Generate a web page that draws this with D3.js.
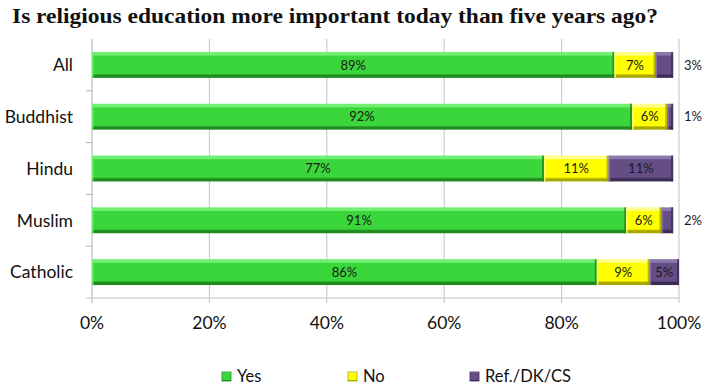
<!DOCTYPE html>
<html>
<head>
<meta charset="utf-8">
<script src="https://cdn.jsdelivr.net/npm/d3@7"></script>
<style>
  html, body { margin: 0; padding: 0; background: #fff; }
  svg { display: block; }
</style>
</head>
<body>
<svg id="chart" width="702" height="387"></svg>
<script>
// Survey responses by religious group (percent)
const categories = ["All", "Buddhist", "Hindu", "Muslim", "Catholic"];
const yesValues = [89, 92, 77, 91, 86];
const noValues = [7, 6, 11, 6, 9];
const refValues = [3, 1, 11, 2, 5];
const seriesNames = ["Yes", "No", "Ref./DK/CS"];
const tickValues = [0, 20, 40, 60, 80, 100];

const palette = {
  "Yes": { base: "#3bd63b", light: "#72ee72", dark: "#1f8a1f" },
  "No": { base: "#ffff00", light: "#ffff8c", dark: "#a8a800" },
  "Ref./DK/CS": { base: "#654e86", light: "#8d78ab", dark: "#3b2b55" }
};

const rows = categories.map((c, i) => ({
  category: c,
  "Yes": yesValues[i],
  "No": noValues[i],
  "Ref./DK/CS": refValues[i]
}));

const svg = d3.select("#chart");
const uiFont = "Lato, 'Open Sans', sans-serif";

const plotLeft = 92, plotRight = 679, plotTop = 39, plotBottom = 298;

const x = d3.scaleLinear().domain([0, 100]).range([plotLeft, plotRight]);
const y = d3.scaleBand().domain(categories).range([plotTop, plotBottom])
  .paddingInner(0.5).paddingOuter(0.25);

// Bevel gradients for each series
const defs = svg.append("defs");
seriesNames.forEach((name, i) => {
  const c = palette[name];
  const g = defs.append("linearGradient").attr("id", "grad" + i)
    .attr("x1", 0).attr("y1", 0).attr("x2", 0).attr("y2", 1);
  g.append("stop").attr("offset", "0%").attr("stop-color", c.light);
  g.append("stop").attr("offset", "12%").attr("stop-color", c.light);
  g.append("stop").attr("offset", "16%").attr("stop-color", c.base);
  g.append("stop").attr("offset", "84%").attr("stop-color", c.base);
  g.append("stop").attr("offset", "90%").attr("stop-color", c.dark);
  g.append("stop").attr("offset", "100%").attr("stop-color", c.dark);
});

// Title
svg.append("text")
  .attr("x", 12).attr("y", 23)
  .attr("font-family", "'Liberation Serif', 'Times New Roman', serif")
  .attr("font-weight", "bold")
  .attr("font-size", 22)
  .attr("textLength", 646)
  .attr("lengthAdjust", "spacingAndGlyphs")
  .attr("fill", "#111")
  .text("Is religious education more important today than five years ago?");

// Vertical gridlines with small ticks below the axis
svg.append("g").selectAll("line")
  .data(tickValues.slice(1))
  .join("line")
  .attr("x1", d => x(d)).attr("x2", d => x(d))
  .attr("y1", plotTop).attr("y2", plotBottom + 5)
  .attr("stroke", "#c4c4c4").attr("stroke-width", 1);

// Category axis line and band-boundary ticks
svg.append("line")
  .attr("x1", plotLeft).attr("x2", plotLeft)
  .attr("y1", plotTop).attr("y2", plotBottom + 5)
  .attr("stroke", "#b0b0b0");
svg.append("line")
  .attr("x1", plotLeft - 6).attr("x2", plotRight)
  .attr("y1", plotBottom).attr("y2", plotBottom)
  .attr("stroke", "#c4c4c4");
const step = y.step();
svg.append("g").selectAll("line")
  .data(d3.range(1, categories.length))
  .join("line")
  .attr("x1", plotLeft - 6).attr("x2", plotLeft)
  .attr("y1", k => plotTop + k * step).attr("y2", k => plotTop + k * step)
  .attr("stroke", "#b0b0b0");

// Category labels
svg.append("g").selectAll("text")
  .data(categories)
  .join("text")
  .attr("x", 73)
  .attr("y", d => y(d) + y.bandwidth() / 2)
  .attr("dy", "0.36em")
  .attr("text-anchor", "end")
  .attr("font-family", uiFont)
  .attr("font-size", 17.5)
  .attr("fill", "#111")
  .text(d => d);

// Percent axis labels
svg.append("g").selectAll("text")
  .data(tickValues)
  .join("text")
  .attr("x", d => x(d))
  .attr("y", 329)
  .attr("text-anchor", "middle")
  .attr("font-family", uiFont)
  .attr("font-size", 17.5)
  .attr("fill", "#111")
  .text(d => d + "%");

// Stacked bars
const stack = d3.stack().keys(seriesNames);
const layers = stack(rows);

const layerG = svg.append("g").selectAll("g")
  .data(layers)
  .join("g");

layerG.each(function(layer, li) {
  const c = palette[layer.key];
  const g = d3.select(this);
  g.selectAll("rect.seg")
    .data(layer)
    .join("rect")
    .attr("class", "seg")
    .attr("x", d => x(d[0]))
    .attr("y", d => y(d.data.category))
    .attr("width", d => x(d[1]) - x(d[0]))
    .attr("height", y.bandwidth())
    .attr("fill", "url(#grad" + li + ")");
  // darker right edge for the bevel
  g.selectAll("rect.edge")
    .data(layer)
    .join("rect")
    .attr("class", "edge")
    .attr("x", d => x(d[1]) - 2)
    .attr("y", d => y(d.data.category))
    .attr("width", 2)
    .attr("height", y.bandwidth())
    .attr("fill", c.dark)
    .attr("opacity", 0.8);
  g.selectAll("rect.ledge")
    .data(layer)
    .join("rect")
    .attr("class", "ledge")
    .attr("x", d => x(d[0]))
    .attr("y", d => y(d.data.category))
    .attr("width", 1.5)
    .attr("height", y.bandwidth())
    .attr("fill", c.light)
    .attr("opacity", 0.8);
});

// Value labels: inside wide segments, to the right of narrow end segments
layerG.each(function(layer) {
  d3.select(this).selectAll("text")
    .data(layer)
    .join("text")
    .attr("x", d => (d[1] - d[0]) < 4 ? x(100) + 14 : (x(d[0]) + x(d[1])) / 2)
    .attr("y", d => y(d.data.category) + y.bandwidth() / 2)
    .attr("dy", "0.36em")
    .attr("text-anchor", "middle")
    .attr("font-family", uiFont)
    .attr("font-size", 13)
    .attr("fill", "#1a1a1a")
    .text(d => (d[1] - d[0]) + "%");
});

// Legend
const legendX = [222, 348, 470];
const legend = svg.append("g").selectAll("g")
  .data(seriesNames)
  .join("g")
  .attr("transform", (d, i) => `translate(${legendX[i]},372)`);
legend.append("rect")
  .attr("width", 9).attr("height", 9)
  .attr("fill", (d, i) => "url(#grad" + i + ")")
  .attr("stroke", d => palette[d].dark).attr("stroke-width", 0.8);
legend.append("text")
  .attr("x", 15).attr("y", 10)
  .attr("font-family", uiFont)
  .attr("font-size", 16.5)
  .attr("fill", "#111")
  .text(d => d);
</script>
</body>
</html>
